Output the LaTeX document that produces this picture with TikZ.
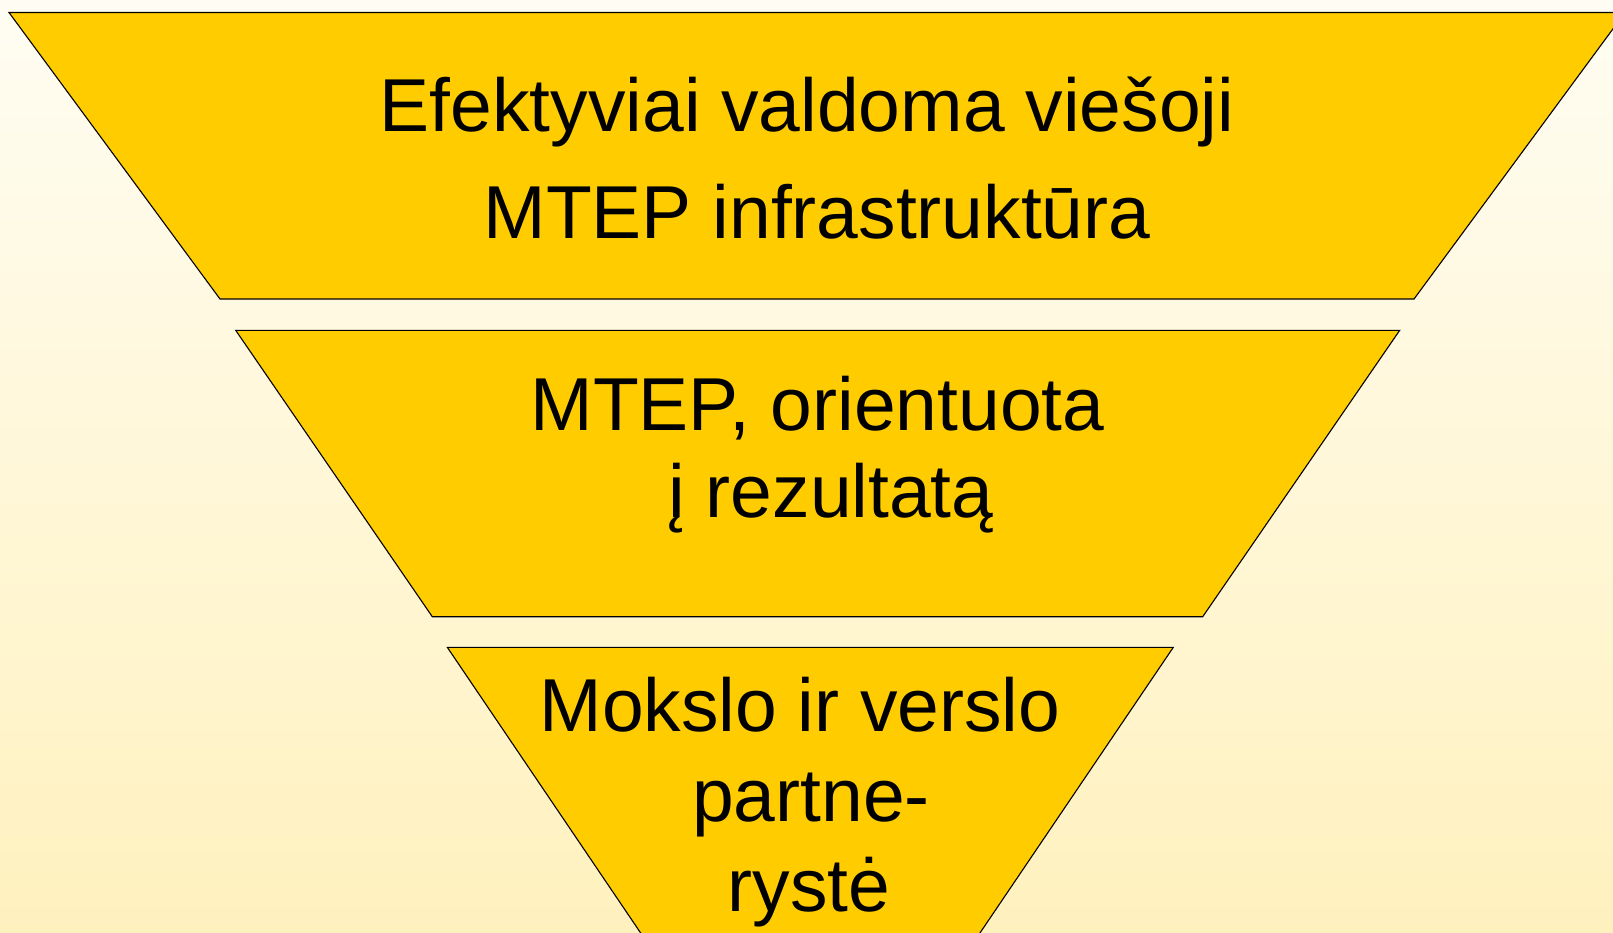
\documentclass[tikz,border=0pt]{standalone}
\usepackage{fontspec}
\setmainfont{Liberation Sans}
\definecolor{bgtop}{RGB}{255,253,243}
\definecolor{bgbot}{RGB}{255,241,190}
\definecolor{gold}{RGB}{255,204,0}
\tikzset{
  level/.style={fill=gold, draw=black, line width=1.1pt, line join=miter},
  lbl/.style={anchor=base, inner sep=0pt, font=\fontsize{75}{75}\selectfont, text=black}
}
\begin{document}
\begin{tikzpicture}[x=1pt,y=-1pt]
\useasboundingbox (0,0) rectangle (1613,932);
\shade[top color=bgtop, bottom color=bgbot] (0,0) rectangle (1613,932);
\begin{scope}
\clip (0,0) rectangle (1613,932);
\draw[level] (9,12.5) -- (1625,12.5) -- (1414,299) -- (220,299) -- cycle;
\draw[level] (235.7,330.3) -- (1399.7,330.3) -- (1202.7,616.7) -- (432.3,616.7) -- cycle;
\draw[level] (447.3,647.3) -- (1173.3,647.3) -- (810.3,1183.6) -- cycle;
\end{scope}
\node[lbl] (t1a) at (807,131) {Efektyviai valdoma viešoji};
\node[lbl] (t1b) at (817,238) {MTEP infrastruktūra};
\node[lbl] (t2a) at (817.5,430) {MTEP, orientuota};
\node[lbl] (t2b) at (831,517) {į rezultatą};
\node[lbl] (t3a) at (800,731) {Mokslo ir verslo};
\node[lbl] (t3b) at (811,821) {partne-};
\node[lbl] (t3c) at (809,911) {rystė};
\end{tikzpicture}
\end{document}
